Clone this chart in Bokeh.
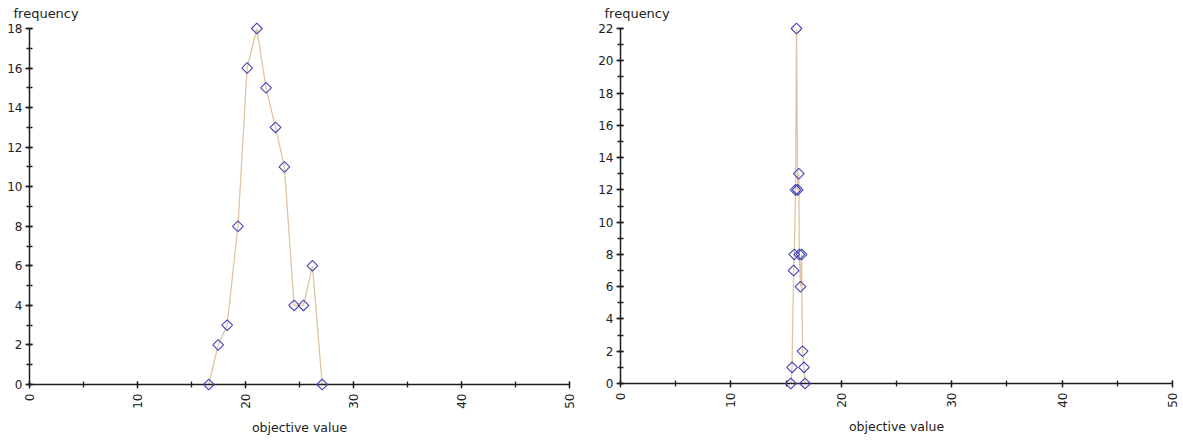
import math
from bokeh.plotting import figure
from bokeh.layouts import row
from bokeh.models import SingleIntervalTicker, Range1d
from bokeh.embed import file_html
from bokeh.resources import INLINE

# ---- data ----
left_x = [16.6, 17.47, 18.3, 19.3, 20.15, 21.05, 21.9, 22.78, 23.6, 24.5, 25.37, 26.2, 27.1]
left_y = [0, 2, 3, 8, 16, 18, 15, 13, 11, 4, 4, 6, 0]

right_x = [15.43, 15.54, 15.68, 15.74, 15.86, 15.94, 16.05, 16.15, 16.2, 16.3, 16.4, 16.49, 16.62, 16.72]
right_y = [0, 1, 7, 8, 12, 22, 12, 13, 8, 6, 8, 2, 1, 0]

x_max = 50
left_y_max = 18
right_y_max = 22
y_label = "frequency"
x_label = "objective value"

LINE_COLOR = "#e0c49f"
MARK_COLOR = "#4646b8"
AXIS_COLOR = "#1e1e1e"
FONT = "DejaVu Sans"


def make(xs, ys, ymax, frame_w, frame_h, top, left_b, right_b, title_off):
    p = figure(output_backend="svg", toolbar_location=None,
               frame_width=frame_w, frame_height=frame_h,
               x_range=Range1d(0, x_max), y_range=Range1d(0, ymax),
               min_border_left=left_b, min_border_right=right_b,
               min_border_top=top, min_border_bottom=0,
               background_fill_color="white", border_fill_color="white")
    p.title.text = y_label
    p.title.align = "left"
    p.title.offset = title_off
    p.title.standoff = 11
    p.title.vertical_align = "top"
    p.title.text_font = FONT
    p.title.text_font_size = "13px"
    p.title.text_font_style = "normal"
    p.title.text_color = "#222222"

    p.line(xs, ys, line_color=LINE_COLOR, line_width=1.3)
    r = p.scatter(xs, ys, marker="square", size=7.6, angle=math.pi / 4,
                  fill_color=None, line_color=MARK_COLOR, line_width=1.1)
    r.level = "overlay"

    p.grid.visible = False
    p.outline_line_color = None

    p.xaxis.ticker = SingleIntervalTicker(interval=10, num_minor_ticks=2)
    p.yaxis.ticker = SingleIntervalTicker(interval=2, num_minor_ticks=2)
    for ax in (p.xaxis, p.yaxis):
        ax.axis_line_color = AXIS_COLOR
        ax.axis_line_width = 1.5
        ax.major_tick_line_color = AXIS_COLOR
        ax.minor_tick_line_color = AXIS_COLOR
        ax.major_tick_line_width = 1.3
        ax.minor_tick_line_width = 1.3
        ax.major_tick_in = 3
        ax.major_tick_out = 4
        ax.minor_tick_in = 3
        ax.minor_tick_out = 3
        ax.major_label_text_font = FONT
        ax.major_label_text_font_size = "12px"
        ax.major_label_text_color = "#222222"
    p.yaxis.major_label_standoff = 3
    p.xaxis.major_label_standoff = 5
    p.xaxis.major_label_orientation = math.pi / 2
    p.xaxis.axis_label = x_label
    p.xaxis.axis_label_text_font = FONT
    p.xaxis.axis_label_text_font_size = "12.5px"
    p.xaxis.axis_label_text_font_style = "normal"
    p.xaxis.axis_label_text_color = "#222222"
    p.xaxis.axis_label_standoff = 8
    return p


p1 = make(left_x, left_y, left_y_max, 540, 356, 27, 29, 26, -16)
p2 = make(right_x, right_y, right_y_max, 552, 355, 28, 24, 10, -16)

layout = row(p1, p2)
open("out.html", "w").write(file_html(layout, INLINE))
